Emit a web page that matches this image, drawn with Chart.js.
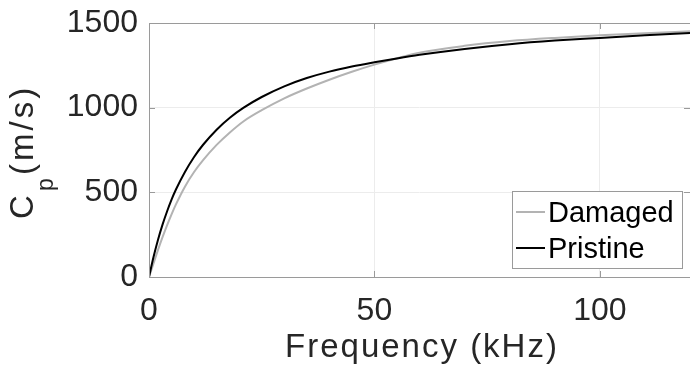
<!DOCTYPE html>
<html lang="en">
<head>
    <meta charset="UTF-8">
    <title>Phase velocity</title>
    <style>
        body { margin: 0; background: #fff; }
        canvas { display: block; }
    </style>
    <script src="https://cdn.jsdelivr.net/npm/chart.js"></script>
</head>
<body>
    <canvas id="chart" width="690" height="376"></canvas>
    <script>
        // values (kHz, m/s)
        const freq     = [0, 1, 2, 3, 4, 5, 6, 8, 10, 12, 15, 18, 21, 25, 30, 35, 40, 45, 50, 55, 60, 70, 80, 90, 100, 110, 120];
        const pristine = [0, 118, 220, 309, 387, 457, 518, 622, 709, 781, 870, 942, 1000, 1063, 1126, 1175, 1213, 1243, 1268, 1291, 1312, 1347, 1375, 1396, 1412, 1427, 1441];
        const damaged  = [0, 80, 160, 235, 305, 370, 430, 535, 620, 690, 780, 855, 920, 985, 1055, 1113, 1165, 1212, 1254, 1292, 1325, 1365, 1393, 1412, 1427, 1440, 1451];
        const xTicks = [0, 50, 100];
        const yTicks = [0, 500, 1000, 1500];
        const legendItems = [['Damaged', '#b3b3b3'], ['Pristine', '#000000']];

        const FONT = '"Liberation Sans", Arial, Helvetica, sans-serif';
        const TXT = '#262626';
        const AXIS = '#9a9a9a';

        // box, inward ticks, axis titles and legend drawn like the matlab figure
        const decor = {
            id: 'decor',
            afterDraw(chart) {
                const ctx = chart.ctx, a = chart.chartArea;
                const xs = chart.scales.x, ys = chart.scales.y;
                ctx.save();
                ctx.strokeStyle = AXIS;
                ctx.lineWidth = 1;
                ctx.strokeRect(a.left + 0.5, a.top + 0.5, a.right - a.left, a.bottom - a.top);
                ctx.beginPath();
                xTicks.forEach(v => {
                    let px = Math.round(xs.getPixelForValue(v)) + 0.5;
                    ctx.moveTo(px, a.bottom); ctx.lineTo(px, a.bottom - 6);
                    ctx.moveTo(px, a.top); ctx.lineTo(px, a.top + 6);
                });
                yTicks.forEach(v => {
                    let py = Math.round(ys.getPixelForValue(v)) + 0.5;
                    ctx.moveTo(a.left, py); ctx.lineTo(a.left + 6, py);
                    ctx.moveTo(a.right, py); ctx.lineTo(a.right - 6, py);
                });
                ctx.stroke();

                // x title
                ctx.fillStyle = TXT;
                ctx.font = '33px ' + FONT;
                ctx.letterSpacing = '2px';
                ctx.textAlign = 'center';
                ctx.textBaseline = 'alphabetic';
                ctx.fillText('Frequency (kHz)', 422, 357);

                // y title with subscript
                ctx.save();
                ctx.translate(33, 219);
                ctx.rotate(-Math.PI / 2);
                ctx.textAlign = 'left';
                ctx.font = '33px ' + FONT;
                ctx.letterSpacing = '0px';
                ctx.fillText('C', 0, 0);
                ctx.font = '23px ' + FONT;
                ctx.fillText('p', 28, 20);
                ctx.font = '33px ' + FONT;
                ctx.letterSpacing = '3px';
                ctx.fillText('(m/s)', 44, 0);
                ctx.restore();

                // legend
                ctx.letterSpacing = '0px';
                ctx.fillStyle = '#fff';
                ctx.fillRect(512.5, 191.5, 170, 77);
                ctx.strokeStyle = AXIS;
                ctx.strokeRect(512.5, 191.5, 170, 77);
                ctx.font = '29px ' + FONT;
                ctx.textAlign = 'left';
                ctx.textBaseline = 'middle';
                legendItems.forEach(([label, color], i) => {
                    let y = 212 + i * 36;
                    ctx.strokeStyle = color;
                    ctx.lineWidth = 2;
                    ctx.beginPath();
                    ctx.moveTo(516, y); ctx.lineTo(545, y);
                    ctx.stroke();
                    ctx.fillStyle = '#000';
                    ctx.fillText(label, 548, y + 2);
                });
                ctx.restore();
            }
        };

        const pts = arr => freq.map((f, i) => ({ x: f, y: arr[i] }));

        new Chart(document.getElementById('chart'), {
            type: 'line',
            data: {
                datasets: [
                    { label: 'Pristine', data: pts(pristine), borderColor: '#000', borderWidth: 2, pointRadius: 0, cubicInterpolationMode: 'monotone' },
                    { label: 'Damaged', data: pts(damaged), borderColor: '#b3b3b3', borderWidth: 2, pointRadius: 0, cubicInterpolationMode: 'monotone' }
                ]
            },
            options: {
                responsive: false,
                animation: false,
                devicePixelRatio: 1,
                layout: { padding: { top: 23, right: 0, left: 0, bottom: 0 } },
                plugins: { legend: { display: false }, tooltip: { enabled: false } },
                scales: {
                    x: {
                        type: 'linear', min: 0, max: 120,
                        afterFit: s => { s.height = 99; s.paddingLeft = 0; s.paddingRight = 0; },
                        afterBuildTicks: s => { s.ticks = xTicks.map(v => ({ value: v })); },
                        ticks: { font: { family: FONT, size: 32 }, color: TXT, padding: 15, maxRotation: 0, callback: v => String(v) },
                        grid: { color: '#ececec', drawTicks: false },
                        border: { display: false }
                    },
                    y: {
                        min: 0, max: 1500,
                        afterFit: s => { s.width = 149; s.paddingTop = 0; s.paddingBottom = 0; },
                        afterBuildTicks: s => { s.ticks = yTicks.map(v => ({ value: v })); },
                        ticks: { font: { family: FONT, size: 32 }, color: TXT, padding: 11, callback: v => String(v) },
                        grid: { color: '#ececec', drawTicks: false },
                        border: { display: false }
                    }
                }
            },
            plugins: [decor]
        });
    </script>
</body>
</html>
